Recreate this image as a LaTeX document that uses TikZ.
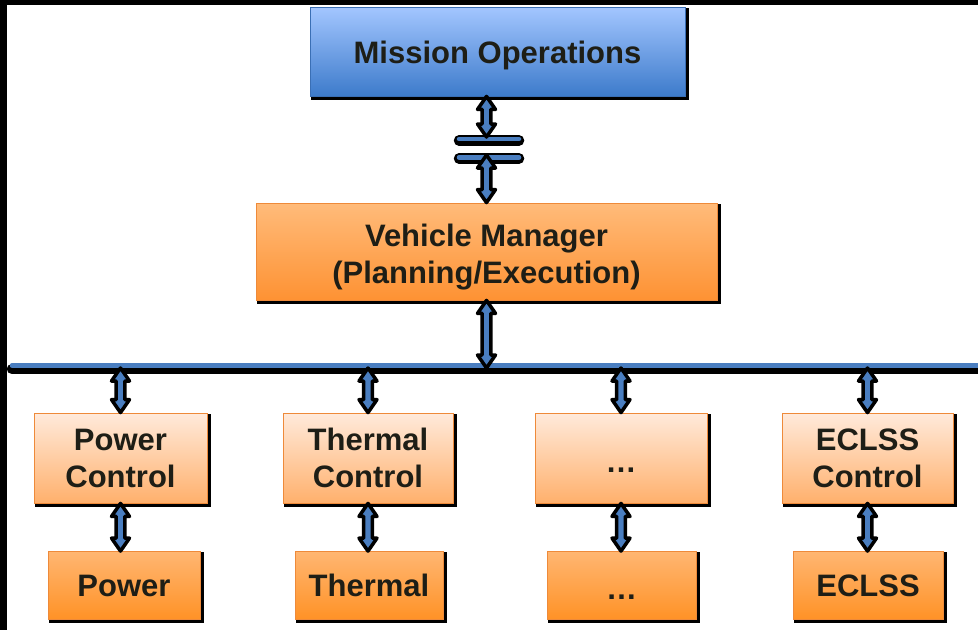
\documentclass[tikz,border=0pt]{standalone}
\usepackage{fontspec}
\setmainfont{Liberation Sans}
\usetikzlibrary{calc}
\definecolor{txt}{HTML}{1E1E16}
\definecolor{arrowblue}{HTML}{4A7EC0}
\definecolor{moTop}{HTML}{A3C6FF}
\definecolor{moBot}{HTML}{3D7BCB}
\definecolor{moEdge}{HTML}{3A6FB5}
\definecolor{vmTop}{HTML}{FFBB7A}
\definecolor{vmBot}{HTML}{FE9233}
\definecolor{orEdge}{HTML}{EE8A3A}
\definecolor{ctTop}{HTML}{FFEADB}
\definecolor{ctBot}{HTML}{FFB06C}
\definecolor{smTop}{HTML}{FFB672}
\definecolor{smBot}{HTML}{FF9226}
\tikzset{
  box/.style={rectangle, inner sep=0pt, align=center, text=txt, line width=0.8pt,
    font=\bfseries\fontsize{31}{37}\selectfont,
    preaction={fill=black, draw=black, line width=3pt, rounded corners=2pt,
      transform canvas={shift={(2pt,-2pt)}}}},
  mobox/.style={box, draw=moEdge, top color=moTop, bottom color=moBot},
  vmbox/.style={box, draw=orEdge, top color=vmTop, bottom color=vmBot},
  ctbox/.style={box, draw=orEdge, top color=ctTop, bottom color=ctBot,
    minimum height=90pt},
  smbox/.style={box, draw=orEdge, top color=smTop, bottom color=smBot,
    minimum height=68pt},
  dotsbox/.style={text height=28pt, text depth=0pt},
  arrowshape/.style={draw=black, fill=arrowblue, line width=3.5pt, line join=round},
  barblack/.style={draw=black, line width=10.5pt, line cap=round},
  barblue/.style={draw=arrowblue, line width=4.5pt, line cap=round},
}
\newcommand\biarrow[2]{%
  \draw[arrowshape] let \p1=(#1), \p2=(#2) in
    (\x1,\y1) -- (\x1+9pt,\y1-13pt) -- (\x1+4.3pt,\y1-13pt)
    -- (\x1+4.3pt,\y2+13pt) -- (\x1+9pt,\y2+13pt) -- (\x1,\y2)
    -- (\x1-9pt,\y2+13pt) -- (\x1-4.3pt,\y2+13pt)
    -- (\x1-4.3pt,\y1-13pt) -- (\x1-9pt,\y1-13pt) -- cycle;}
\begin{document}
\begin{tikzpicture}[x=1pt,y=1pt]
\useasboundingbox (0,0) rectangle (978,-630);
\fill[white] (0,0) rectangle (978,-630);
% black frame strips
\fill[black] (0,0) rectangle (978,-5);
\fill[black] (0,0) rectangle (7,-630);

% bus and break bars
\coordinate (busL) at (12,-369);
\coordinate (busR) at (990,-369);
\coordinate (bus) at (0,-368);
\draw[barblack] (busL) -- (busR);
\draw[barblue] ($(busL)+(0,3.5)$) -- ($(busR)+(0,3.5)$);
\coordinate (bar1L) at (459,-140.5);
\coordinate (bar1R) at (519,-140.5);
\coordinate (bar2L) at (459,-158.5);
\coordinate (bar2R) at (519,-158.5);
\draw[barblack] (bar1L) -- (bar1R);
\draw[barblue] ($(bar1L)+(0,1.5)$) -- ($(bar1R)+(0,1.5)$);
\draw[barblack] (bar2L) -- (bar2R);
\draw[barblue] ($(bar2L)+(0,1)$) -- ($(bar2R)+(0,1)$);
\coordinate (brk1) at (0,-137);
\coordinate (brk2) at (0,-155);

% boxes
\node[mobox, minimum width=375pt, minimum height=89pt, text height=31pt] (mo) at (497.5,-51.5) {Mission Operations};
\node[vmbox, minimum width=461pt, minimum height=97pt] (vm) at (486.5,-251.5)
  {\raisebox{5pt}[0pt][0pt]{\begin{tabular}[t]{@{}c@{}}Vehicle Manager\\(Planning/Execution)\end{tabular}}};
\node[ctbox, minimum width=173pt] (pc) at (120.5,-458) {Power\\Control};
\node[ctbox, minimum width=170pt] (tc) at (368,-458) {Thermal\\Control};
\node[ctbox, dotsbox, minimum width=172pt] (dc) at (621,-458) {…};
\node[ctbox, minimum width=171pt] (ec) at (867.5,-458) {ECLSS\\Control};
\node[smbox, minimum width=152pt] (p) at (124,-585.5) {Power};
\node[smbox, minimum width=148pt] (t) at (369,-585.5) {Thermal};
\node[smbox, dotsbox, minimum width=149pt] (d) at (621.5,-585.5) {…};
\node[smbox, minimum width=150pt] (e) at (868,-585.5) {ECLSS};

% arrows
\biarrow{vm.north |- mo.south}{vm.north |- brk1}
\biarrow{vm.north |- brk2}{vm.north}
\biarrow{vm.south}{vm.south |- bus}
\biarrow{pc.north |- bus}{pc.north}
\biarrow{tc.north |- bus}{tc.north}
\biarrow{dc.north |- bus}{dc.north}
\biarrow{ec.north |- bus}{ec.north}
\biarrow{pc.south}{pc.south |- p.north}
\biarrow{tc.south}{tc.south |- t.north}
\biarrow{dc.south}{dc.south |- d.north}
\biarrow{ec.south}{ec.south |- e.north}
\end{tikzpicture}
\end{document}
